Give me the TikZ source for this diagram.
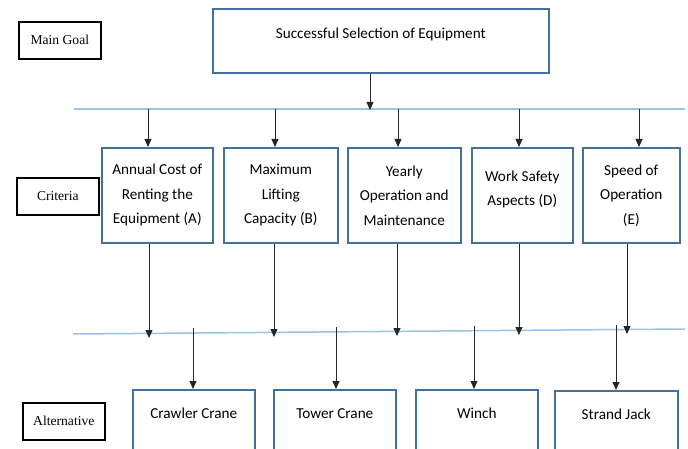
\documentclass[tikz,border=0pt]{standalone}
\usepackage{fontspec}
\setmainfont{Carlito}
\newfontfamily\serifl{Liberation Serif}
\usetikzlibrary{arrows.meta}
\definecolor{boxblue}{RGB}{65,113,156}
\definecolor{lineblue}{RGB}{157,195,230}
\begin{document}
\begin{tikzpicture}[x=1pt,y=-1pt,
  lbl/.style={draw=black, line width=1.6pt, font=\serifl\fontsize{13.6}{16}\selectfont, inner sep=0, anchor=north west, minimum width=82, minimum height=37},
  crit/.style={draw=boxblue, line width=1.6pt, font=\fontsize{15.2}{24.5}\selectfont, align=center, inner sep=0, anchor=north west, minimum height=95},
  altbox/.style={draw=boxblue, line width=1.6pt, font=\fontsize{15.2}{18}\selectfont, inner sep=0, anchor=north west, text height=29, text depth=62},
  goalbox/.style={draw=boxblue, line width=1.6pt, font=\fontsize{15.2}{18}\selectfont, inner sep=0, anchor=north west, text height=30, text depth=34, minimum width=336},
  arr/.style={draw=black!85, line width=0.8pt, -{Triangle[length=8pt,width=7pt]}},
  blueline/.style={draw=lineblue, line width=1.5pt}]
\clip (0,0) rectangle (688,449);
\fill[white] (0,0) rectangle (688,449);

% left labels
\node[lbl] (lgoal) at (18,21) {Main Goal};
\node[lbl] (lcrit) at (16,177) {Criteria};
\node[lbl] (lalt) at (22,402) {Alternative};

% goal
\node[goalbox] (goal) at (212,8) {Successful Selection of Equipment};

% criteria
\node[crit, minimum width=111] (A) at (101,147) {Annual Cost of\\Renting the\\Equipment (A)};
\node[crit, minimum width=114] (B) at (223,147) {Maximum\\Lifting\\Capacity (B)};
\node[crit, minimum width=113] (C) at (347,147) {Yearly\\Operation and\\Maintenance};
\node[crit, minimum width=101] (D) at (471,147) {Work Safety\\Aspects (D)\\[-10pt]};
\node[crit, minimum width=97] (E) at (582,147) {Speed of\\Operation\\(E)};

% alternatives
\node[altbox, minimum width=122] (alt1) at (132,389) {Crawler Crane};
\node[altbox, minimum width=122] (alt2) at (273,389) {Tower Crane};
\node[altbox, minimum width=122] (alt3) at (415,389) {Winch};
\node[altbox, minimum width=123] (alt4) at (554,390) {Strand Jack};

% top line
\coordinate (tl1) at (74,109);
\coordinate (tl2) at (685,109);
\draw[blueline] (tl1) -- (tl2);

% lower line
\coordinate (ll1) at (73,334);
\coordinate (ll2) at (685,329);
\draw[blueline] (ll1) -- (ll2);

% goal to top line
\coordinate (g1) at (370,110);
\draw[arr] (goal.south -| g1) -- (g1);

% top line to criteria
\coordinate (tA) at (148,109);
\coordinate (tB) at (275,109);
\coordinate (tC) at (398,109);
\coordinate (tD) at (519,109);
\coordinate (tE) at (639,109);
\foreach \c/\n in {tA/A,tB/B,tC/C,tD/D,tE/E}
  \draw[arr] (\c) -- (\c |- \n.north);

% criteria to lower line
\coordinate (bA) at (149,338);
\coordinate (bB) at (274,337);
\coordinate (bC) at (397,336);
\coordinate (bD) at (519,335);
\coordinate (bE) at (627,334);
\foreach \c/\n in {bA/A,bB/B,bC/C,bD/D,bE/E}
  \draw[arr] (\c |- \n.south) -- (\c);

% lower line to alternatives
\coordinate (c1) at (193,328);
\coordinate (c2) at (336,327);
\coordinate (c3) at (474,326);
\coordinate (c4) at (616,325);
\foreach \c/\n in {c1/alt1,c2/alt2,c3/alt3,c4/alt4}
  \draw[arr] (\c) -- (\c |- \n.north);
\end{tikzpicture}
\end{document}
